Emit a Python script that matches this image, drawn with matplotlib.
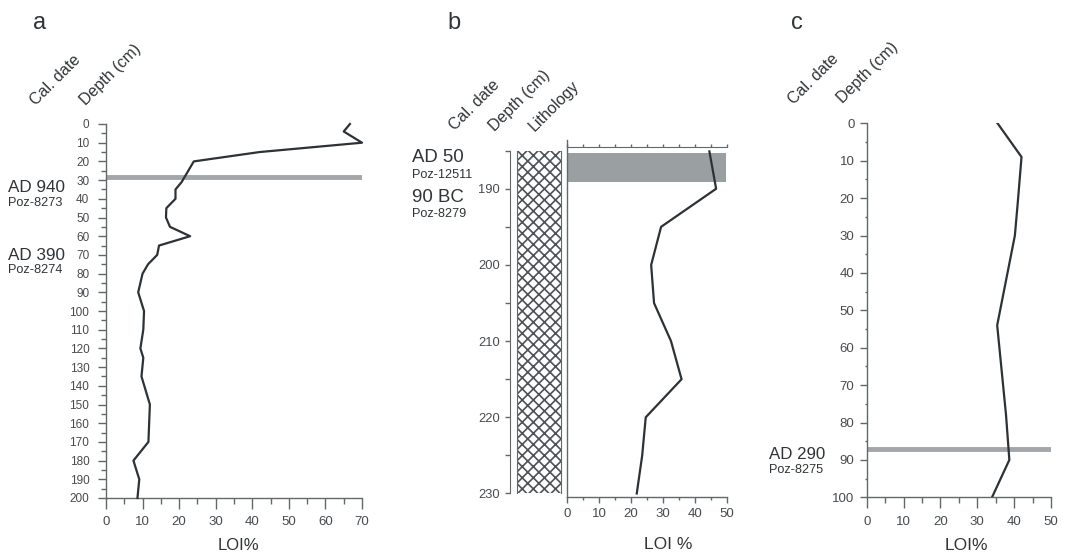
import matplotlib
matplotlib.use("Agg")
import matplotlib.pyplot as plt
from matplotlib.ticker import MultipleLocator, FixedLocator, NullFormatter

plt.rcParams['font.family'] = ['Liberation Sans', 'DejaVu Sans']
plt.rcParams['hatch.color'] = '#4c5256'
plt.rcParams['hatch.linewidth'] = 1.2

# ---- data ----
# core a
depth_a = [0, 4, 10, 15, 20, 31, 35, 40, 45, 50, 55, 60, 65, 70, 75, 80, 90,
           100, 110, 120, 125, 135, 150, 170, 180, 190, 200]
loi_a = [66.7, 65, 70, 42, 24, 20.7, 19, 19, 16.5, 16.4, 17.5, 23, 14.5, 14,
         11.5, 10, 8.8, 10.4, 10.2, 9.4, 10.2, 9.7, 12, 11.6, 7.5, 9.1, 8.6]
date_depth_a = 28.2
# core b
depth_b = [185.1, 190, 195, 200, 205, 210, 215, 220, 225, 230]
loi_b = [44.5, 46.6, 29.4, 26.3, 27.2, 32.5, 35.8, 24.6, 23.5, 21.8]
date_band_b = (185.3, 189.1)
# core c
depth_c = [0, 9, 21, 30, 54, 78, 90, 100]
loi_c = [35.5, 42, 41, 40.2, 35.4, 37.8, 38.7, 34]
date_depth_c = 87.2

W, H = 1069, 553
TXT = '#2f3437'
TICK = '#464b4f'
SPINE = '#62676a'
LINE = '#2c3236'
GREY = '#a4a7a9'

fig = plt.figure(figsize=(W / 100, H / 100), dpi=100)


def box(x0, y0, x1, y1):
    return [x0 / W, 1 - y1 / H, (x1 - x0) / W, (y1 - y0) / H]


def ftext(x, y, s, **kw):
    kw.setdefault('color', TXT)
    fig.text(x / W, 1 - y / H, s, **kw)


def header(x, y, s):
    ftext(x, y, s, fontsize=11.5, rotation=45, rotation_mode='anchor',
          ha='left', va='baseline')


def style(ax):
    for side in ['top', 'right']:
        ax.spines[side].set_visible(False)
    for side in ['left', 'bottom']:
        ax.spines[side].set_color(SPINE)
        ax.spines[side].set_linewidth(1.0)
    ax.tick_params(which='both', colors=SPINE, labelcolor=TICK, width=1.0)


# ---------------- panel a ----------------
ax = fig.add_axes(box(106, 124, 362, 498))
style(ax)
ax.plot(loi_a, depth_a, color=LINE, lw=1.6, clip_on=False, zorder=3)
ax.axhline(date_depth_a, color=GREY, lw=3.5, zorder=2)
ax.set_xlim(0, 70)
ax.set_ylim(200, 0)
ax.xaxis.set_major_locator(MultipleLocator(10))
ax.xaxis.set_minor_locator(MultipleLocator(5))
ax.yaxis.set_major_locator(MultipleLocator(10))
ax.yaxis.set_minor_locator(MultipleLocator(5))
ax.tick_params(axis='x', which='major', length=8, pad=5, labelsize=9.5)
ax.tick_params(axis='x', which='minor', length=4)
ax.tick_params(axis='y', which='major', length=6, pad=6, labelsize=8.5)
ax.tick_params(axis='y', which='minor', length=3.5)

ftext(40, 29, 'a', fontsize=17, ha='center')
header(36, 106, 'Cal. date')
header(86, 106, 'Depth (cm)')
ftext(8, 191.5, 'AD 940', fontsize=12.3)
ftext(8, 206, 'Poz-8273', fontsize=9.2)
ftext(8, 260, 'AD 390', fontsize=12.3)
ftext(8, 273, 'Poz-8274', fontsize=9.2)
ftext(238, 550, 'LOI%', fontsize=12, ha='center')

# ---------------- panel b ----------------
# depth scale
axd = fig.add_axes(box(510, 150.7, 511, 493.3))
for side in ['top', 'right', 'bottom']:
    axd.spines[side].set_visible(False)
axd.spines['left'].set_color(SPINE)
axd.set_xticks([])
axd.set_ylim(230, 185)
axd.yaxis.set_major_locator(FixedLocator([190, 200, 210, 220, 230]))
axd.yaxis.set_minor_locator(FixedLocator([185, 195, 205, 215, 225]))
axd.tick_params(axis='y', which='both', length=3.6, width=1.0, colors=SPINE,
                labelcolor=TICK, labelsize=9.3, pad=3.5)

# lithology column
axl = fig.add_axes(box(516.7, 150.7, 561, 493.3))
axl.set_xlim(0, 1)
axl.set_ylim(230, 185)
axl.fill_betweenx([185, 230], 0, 1, facecolor='white', edgecolor='#4c5256',
                  hatch='xxx', linewidth=0)
for side in ['top', 'bottom']:
    axl.spines[side].set_visible(False)
for side in ['left', 'right']:
    axl.spines[side].set_color(SPINE)
axl.set_xticks([])
axl.set_yticks([])

# LOI
y_bot, y_top = 230.5, 183.6
axb = fig.add_axes(box(567, 140, 727, 497.3))
style(axb)
axb.fill_between([0, 49.6], date_band_b[0], date_band_b[1], color='#9a9fa2',
                 linewidth=0, zorder=1)
axb.plot(loi_b, depth_b, color=LINE, lw=1.6, zorder=3)
axb.set_xlim(0, 50)
axb.set_ylim(y_bot, y_top)
axb.set_yticks([])
axb.xaxis.set_major_locator(MultipleLocator(10))
axb.xaxis.set_minor_locator(MultipleLocator(5))
axb.tick_params(axis='x', which='major', length=4, pad=3.5, labelsize=9.5)
axb.tick_params(axis='x', which='minor', length=2.2)
top_frac = (y_bot - 184.5) / (y_bot - y_top)
sec = axb.secondary_xaxis(top_frac)
sec.spines['top'].set_color(SPINE)
sec.xaxis.set_major_locator(MultipleLocator(5))
sec.xaxis.set_major_formatter(NullFormatter())
sec.tick_params(axis='x', length=2.2, width=1.0, colors=SPINE)

ftext(454, 29, 'b', fontsize=17, ha='center')
header(455, 131, 'Cal. date')
header(495, 132, 'Depth (cm)')
header(535, 132, 'Lithology')
ftext(412, 162.5, 'AD 50', fontsize=13.4)
ftext(412, 177.5, 'Poz-12511', fontsize=9.1)
ftext(412, 202.5, '90 BC', fontsize=13.4)
ftext(412, 217, 'Poz-8279', fontsize=9.1)
ftext(668, 549, 'LOI %', fontsize=12.5, ha='center')

# ---------------- panel c ----------------
axc = fig.add_axes(box(866.7, 123.3, 1051, 497.3))
style(axc)
axc.plot(loi_c, depth_c, color=LINE, lw=1.6, zorder=3)
axc.axhline(date_depth_c, color=GREY, lw=3.5, zorder=2)
axc.set_xlim(0, 50)
axc.set_ylim(100, 0)
axc.xaxis.set_major_locator(MultipleLocator(10))
axc.xaxis.set_minor_locator(MultipleLocator(5))
axc.yaxis.set_major_locator(MultipleLocator(10))
axc.yaxis.set_minor_locator(MultipleLocator(5))
axc.tick_params(axis='x', which='major', length=8, pad=5.5, labelsize=9.5)
axc.tick_params(axis='x', which='minor', length=4)
axc.tick_params(axis='y', which='major', length=4.8, pad=4, labelsize=9.5)
axc.tick_params(axis='y', which='minor', length=1.8)

ftext(797, 29, 'c', fontsize=17, ha='center')
header(794, 105, 'Cal. date')
header(843, 104, 'Depth (cm)')
ftext(769, 459, 'AD 290', fontsize=12.2)
ftext(769, 473, 'Poz-8275', fontsize=9.1)
ftext(966, 550, 'LOI%', fontsize=12.5, ha='center')

fig.savefig('out.png', dpi=100)
